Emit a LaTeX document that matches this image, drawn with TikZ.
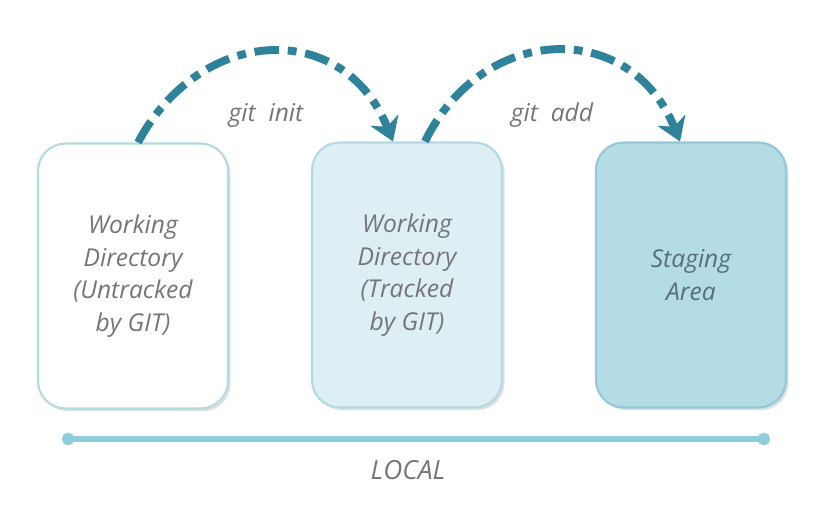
\documentclass[tikz,border=0pt]{standalone}
\usepackage{fontspec}
\setmainfont{Open Sans}
\usetikzlibrary{positioning,arrows.meta,shadows}

\definecolor{boxline}{HTML}{B3DAE4}
\definecolor{trackfill}{HTML}{DDEFF5}
\definecolor{stagefill}{HTML}{B4DCE7}
\definecolor{stageline}{HTML}{93C8D7}
\definecolor{arrowteal}{HTML}{2E8299}
\definecolor{labelgray}{HTML}{757575}
\definecolor{stagetext}{HTML}{5A6E76}
\definecolor{localline}{HTML}{8ECDDC}

\tikzset{
  area/.style={draw=boxline, line width=1.2pt, rounded corners=0.55cm,
    minimum width=3.8cm, minimum height=5.3cm, align=center,
    font=\fontsize{14}{18.5}\selectfont\itshape, text=labelgray,
    drop shadow={opacity=0.25, shadow xshift=1.5pt, shadow yshift=-1.5pt}},
  gitcmd/.style={-{Stealth[length=13pt,width=17pt,inset=4pt]}, arrowteal,
    line width=4.5pt, dash pattern=on 14pt off 5pt on 5pt off 5pt},
  cmdlabel/.style={font=\fontsize{14}{17}\selectfont\itshape, text=labelgray}
}

\begin{document}
\begin{tikzpicture}[x=0.02cm, y=-0.02cm]
  \useasboundingbox (0,0) rectangle (836,508);

  \node[area, fill=white] (untracked) at (133,276) {Working\\Directory\\(Untracked\\by GIT)};
  \node[area, fill=trackfill] (tracked) at (407,275) {Working\\Directory\\(Tracked\\by GIT)};
  \node[area, fill=stagefill, draw=stageline, text=stagetext] (staging) at (691,275) {Staging\\Area};

  % commands between the areas
  \draw[gitcmd] ([xshift=0.1cm]untracked.north) to[out=62, in=112, looseness=1.33] ([xshift=-0.28cm]tracked.north);
  \draw[gitcmd] ([xshift=0.36cm]tracked.north) to[out=64, in=112, looseness=1.33] ([xshift=-0.22cm]staging.north);
  \node[cmdlabel] (init) at (266,115) {git\ \ init};
  \node[cmdlabel] (add) at (552,115) {git\ \ add};

  % local bar
  \coordinate (barleft) at (62,439);
  \coordinate (barright) at (770,439);
  \draw[localline, line width=3.4pt, {Circle[length=7pt]}-{Circle[length=7pt]},
    drop shadow={opacity=0.2, shadow xshift=1pt, shadow yshift=-1.5pt}] (barleft) -- (barright);
  \node[cmdlabel, font=\fontsize{15}{18}\selectfont\itshape] (local) at (408,470) {LOCAL};
\end{tikzpicture}
\end{document}
